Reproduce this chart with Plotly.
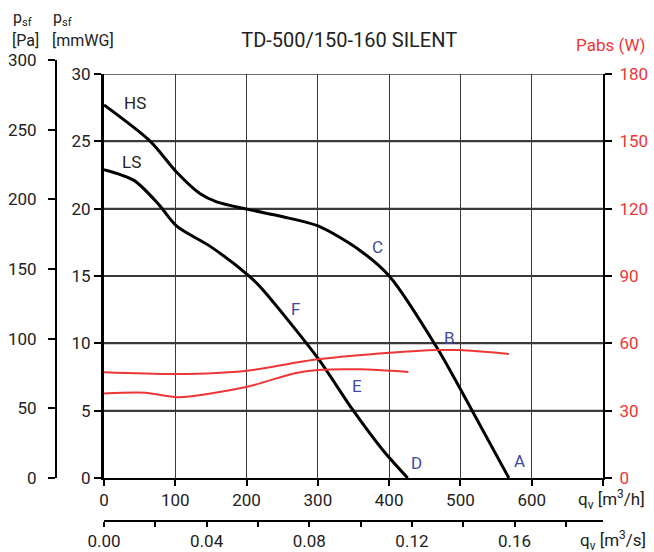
import plotly.graph_objects as go

# ---------------- data ----------------
hs_q = [0, 65, 102, 135, 158, 202, 251, 301, 359, 401, 468, 501, 568]
hs_p = [27.7, 25.0, 22.7, 21.1, 20.5, 19.95, 19.4, 18.7, 16.9, 14.95, 9.6, 6.5, 0]

ls_q = [0, 42, 77, 102, 149, 202, 219, 300, 349, 391, 426]
ls_p = [22.9, 22.1, 20.3, 18.7, 17.2, 15.07, 14.2, 8.9, 5.05, 2.08, 0]

hs_pow_q = [0, 102, 201, 268, 300, 401, 468, 499, 568]
hs_pow_w = [47.1, 46.3, 47.8, 51.4, 52.9, 55.8, 57.0, 57.0, 55.3]

ls_pow_q = [0, 58, 104, 201, 268, 300, 359, 427]
ls_pow_w = [37.7, 38.0, 36.0, 40.7, 46.7, 48.1, 48.4, 47.2]

point_labels = ["HS", "LS", "C", "B", "F", "E", "D", "A"]
point_q = [44, 38, 384, 485, 268, 355, 439, 583]
point_p = [27.85, 23.5, 17.15, 10.4, 12.55, 6.83, 1.11, 1.26]
point_colors = ["#222222", "#222222", "#4049a3", "#4049a3", "#4049a3", "#4049a3", "#4049a3", "#4049a3"]

qh_ticks = [0, 100, 200, 300, 400, 500, 600]
qh_end = [700]
mmwg_ticks = [0, 5, 10, 15, 20, 25, 30]

# ---------------- figure ----------------
W, H = 654, 552
L_PX, R_PX, T_PX, B_PX = 57, 603, 60, 520
PLOT_L, PLOT_T, PLOT_B = 104, 74, 478
Q_RANGE = [0, qh_end[0]]

def px_x(px):
    return (px - L_PX) / (R_PX - L_PX)

def px_y(py):
    return (B_PX - py) / (B_PX - T_PX)

RED = "#ee3535"
FONT = "Roboto"
TXT = "#222222"
GRID = "#3a3a3a"

fig = go.Figure()

# horizontal grid lines at the mmWG tick values (background line trace)
gx, gy = [], []
for v in mmwg_ticks[1:]:
    gx += [Q_RANGE[0], Q_RANGE[1], None]
    gy += [v, v, None]
fig.add_trace(go.Scatter(x=gx, y=gy, mode="lines", line=dict(color=GRID, width=1.6),
                         xaxis="x", yaxis="y", showlegend=False, hoverinfo="skip"))

for q, p in [(hs_q, hs_p), (ls_q, ls_p)]:
    fig.add_trace(go.Scatter(x=q, y=p, mode="lines", line=dict(color="black", width=3, shape="spline", smoothing=0.8),
                             xaxis="x", yaxis="y", showlegend=False, hoverinfo="skip"))
for q, w in [(hs_pow_q, hs_pow_w), (ls_pow_q, ls_pow_w)]:
    fig.add_trace(go.Scatter(x=q, y=w, mode="lines", line=dict(color=RED, width=2, shape="spline", smoothing=0.8),
                             xaxis="x", yaxis="y2", showlegend=False, hoverinfo="skip"))

# empty traces so that the side strips (Pa axis, m3/s axis) exist
fig.add_trace(go.Scatter(x=[None], y=[None], xaxis="x3", yaxis="y3", showlegend=False, hoverinfo="skip"))
fig.add_trace(go.Scatter(x=[None], y=[None], xaxis="x2", yaxis="y4", showlegend=False, hoverinfo="skip"))

for t, q, p, c in zip(point_labels, point_q, point_p, point_colors):
    fig.add_annotation(x=q, y=p, xref="x", yref="y", text=t, showarrow=False,
                       font=dict(family=FONT, size=17, color=c))

ydom = [px_y(PLOT_B), px_y(PLOT_T)]
xdom = [px_x(PLOT_L), 1]

fig.update_layout(
    width=W, height=H,
    margin=dict(l=L_PX, r=W - R_PX, t=T_PX, b=H - B_PX, pad=0, autoexpand=False),
    plot_bgcolor="rgba(0,0,0,0)", paper_bgcolor="white",
    font=dict(family=FONT, size=17, color=TXT),
    title=dict(text="TD-500/150-160 SILENT", x=350 / W, xref="paper", xanchor="center",
               y=1 - 40 / H, yref="container", yanchor="middle",
               font=dict(family=FONT, size=20, color=TXT)),
    xaxis=dict(domain=xdom, range=Q_RANGE, tickmode="array", tickvals=qh_ticks,
               showgrid=True, gridcolor=GRID, gridwidth=1, zeroline=False,
               ticks="outside", ticklen=6, tickcolor="black", tickwidth=1.5,
               minor=dict(tickmode="array", tickvals=qh_end, ticks="outside", ticklen=6, tickcolor="black",
                          tickwidth=1.5, showgrid=True, gridcolor=GRID, gridwidth=1),
               showline=True, linecolor="black", linewidth=2, anchor="y",
               tickfont=dict(size=17, color=TXT)),
    # m3/s axis in the bottom strip
    xaxis2=dict(domain=xdom, anchor="y4", side="bottom",
                range=[0, Q_RANGE[1] / 3600], tick0=0, dtick=0.04, tickformat=".2f",
                ticks="outside", ticklen=5, tickcolor="black", tickwidth=1.5,
                minor=dict(ticks="outside", ticklen=5, dtick=0.02, tick0=0, tickcolor="black", tickwidth=1.5, showgrid=False),
                showline=True, linecolor="black", linewidth=2, showgrid=False, zeroline=False,
                tickfont=dict(size=17, color=TXT)),
    yaxis4=dict(domain=[0, ydom[0] * 0.5], anchor="x2", range=[0, 1], visible=False,
                showgrid=False, showticklabels=False, ticks=""),
    # hidden x for the left Pa strip
    xaxis3=dict(domain=[0, xdom[0] * 0.5], anchor="y3", range=[0, 1], visible=False,
                showgrid=False, showticklabels=False, ticks=""),
    yaxis=dict(domain=ydom, range=[0, 30], tickmode="array", tickvals=mmwg_ticks,
               showgrid=True, gridcolor=GRID, gridwidth=1.5,
               zeroline=False, ticks="outside", ticklen=7, tickcolor="black", tickwidth=1.5,
               showline=True, linecolor="black", linewidth=3, anchor="x",
               tickfont=dict(size=17, color=TXT)),
    yaxis2=dict(overlaying="y", side="right", anchor="x", range=[0, 180], tickmode="linear", tick0=0, dtick=30,
                showgrid=False, zeroline=False, ticks="outside", ticklen=7, tickcolor="black", tickwidth=1.5,
                showline=True, linecolor="black", linewidth=2, ticklabelstandoff=4,
                tickfont=dict(size=17, color=RED)),
    yaxis3=dict(domain=[ydom[0], 1], anchor="x3", side="left", range=[0, 300], dtick=50,
                showgrid=False, zeroline=False, ticks="outside", ticklen=7, tickcolor="black", tickwidth=1.5,
                showline=True, linecolor="black", linewidth=2, ticklabelstandoff=8,
                tickfont=dict(size=17, color=TXT)),
)

# header labels
hdr = [
    ("p<sub>sf</sub>", 11, 18),
    ("[Pa]", 10, 40),
    ("p<sub>sf</sub>", 51, 18),
    ("[mmWG]", 50, 40),
]
for t, x, y in hdr:
    fig.add_annotation(x=px_x(x), y=px_y(y), xref="paper", yref="paper", text=t, showarrow=False,
                       xanchor="left", yanchor="middle", font=dict(family=FONT, size=16, color=TXT))

fig.add_annotation(x=px_x(648), y=px_y(45), xref="paper", yref="paper", text="Pabs (W)", showarrow=False,
                   xanchor="right", yanchor="middle", font=dict(family=FONT, size=17, color=RED))
fig.add_annotation(x=px_x(576), y=px_y(499), xref="paper", yref="paper", text="q<sub>v</sub> [m<sup>3</sup>/h]",
                   showarrow=False, xanchor="left", yanchor="middle", font=dict(family=FONT, size=17, color=TXT))
fig.add_annotation(x=px_x(578), y=px_y(540), xref="paper", yref="paper", text="q<sub>v</sub> [m<sup>3</sup>/s]",
                   showarrow=False, xanchor="left", yanchor="middle", font=dict(family=FONT, size=17, color=TXT))

fig.write_html("out.html", config={"displayModeBar": False},
               post_script="document.body.style.margin='0';")
